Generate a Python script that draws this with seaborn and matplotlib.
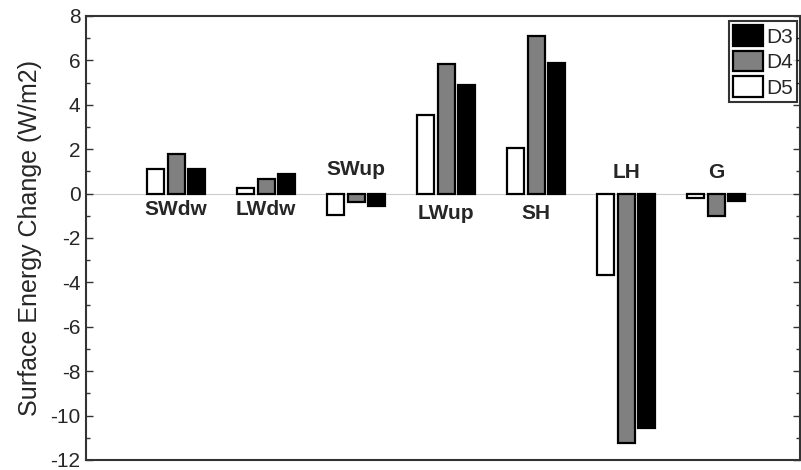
import numpy as np
import pandas as pd
import seaborn as sns
import matplotlib
matplotlib.use("Agg")
import matplotlib.pyplot as plt
from matplotlib.patches import Patch
from matplotlib.ticker import MultipleLocator

categories = ["SWdw", "LWdw", "SWup", "LWup", "SH", "LH", "G"]
d5 = [1.13, 0.24, -0.97, 3.56, 2.05, -3.68, -0.18]
d4 = [1.80, 0.65, -0.37, 5.86, 7.10, -11.23, -1.02]
d3 = [1.10, 0.87, -0.55, 4.91, 5.88, -10.54, -0.35]
series = ["D5", "D4", "D3"]
colors = {"D5": "white", "D4": "#808080", "D3": "black"}
ylabel = "Surface Energy Change (W/m2)"

rows = []
for s, vals in zip(series, [d5, d4, d3]):
    for c, v in zip(categories, vals):
        rows.append({"cat": c, "series": s, "value": v})
df = pd.DataFrame(rows)

sns.set_style("white")
plt.rcParams["font.family"] = ["Liberation Sans", "DejaVu Sans"]
plt.rcParams["axes.unicode_minus"] = False

fig = plt.figure(figsize=(8.01, 4.70), dpi=100)
ax = fig.add_axes([86 / 801, 10 / 470, (800 - 86) / 801, 444 / 470])

sns.barplot(data=df, x="cat", y="value", hue="series", hue_order=series,
            order=categories, palette=colors, width=0.684, gap=0.17,
            edgecolor="black", linewidth=1.6, ax=ax, legend=False)

ax.axhline(0, color="#cccccc", lw=0.8, zorder=0)
ax.set_ylim(-12, 8)
ax.set_xlim(-1, 6.93)
ax.set_xticks([])
ax.set_xlabel("")
ax.set_ylabel(ylabel, fontsize=18, labelpad=6)
ax.yaxis.set_major_locator(MultipleLocator(2))
ax.yaxis.set_minor_locator(MultipleLocator(1))
ax.tick_params(axis="y", which="major", direction="in", length=5, width=1,
               labelsize=15, right=True, left=True, color="#333333", pad=4)
ax.tick_params(axis="y", which="minor", direction="in", length=3, width=1,
               right=True, left=True, color="#333333")
for sp in ax.spines.values():
    sp.set_color("#333333")
    sp.set_linewidth(1.5)

# category labels
label_y = [-0.7, -0.7, 1.1, -0.9, -0.9, 0.97, 0.95]
for i, (c, yy) in enumerate(zip(categories, label_y)):
    ax.text(i, yy, c, ha="center", va="center", fontsize=15, fontweight="bold")

handles = [Patch(facecolor=colors[s], edgecolor="black", linewidth=1.6, label=s)
           for s in ["D3", "D4", "D5"]]
leg = fig.legend(handles=handles, loc="upper left",
                 bbox_to_anchor=(729 / 801, 1 - 21 / 470), fontsize=15,
                 frameon=True, fancybox=False, edgecolor="black",
                 handlelength=1.45, handleheight=1.15, handletextpad=0.15,
                 borderpad=0.2, labelspacing=0.2, borderaxespad=0)
leg.get_frame().set_linewidth(1.5)

fig.savefig("out.png", dpi=100)
